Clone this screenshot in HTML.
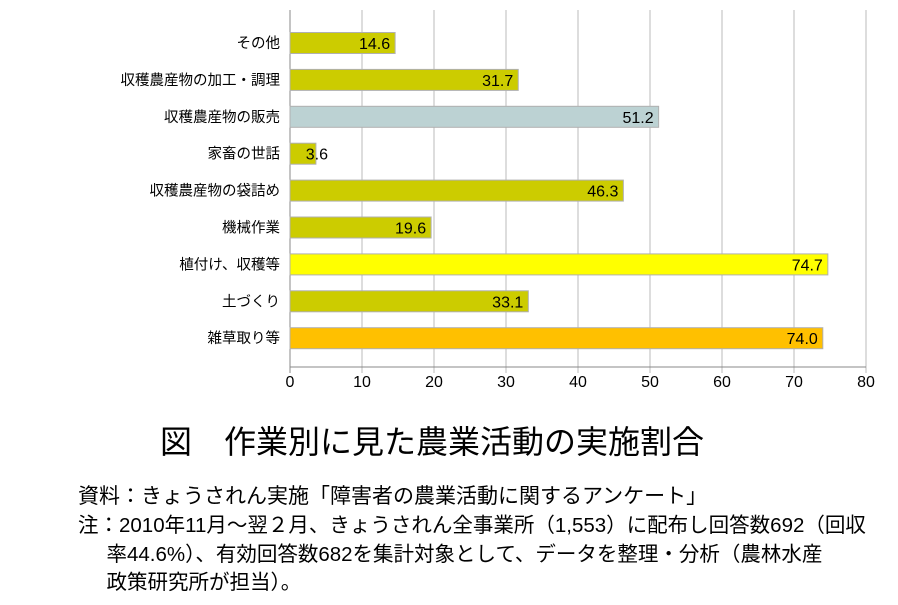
<!DOCTYPE html>
<html><head><meta charset="utf-8"><style>
body{margin:0;background:#fff;width:898px;height:605px;overflow:hidden;font-family:"Liberation Sans","Noto Sans CJK JP",sans-serif;}
.t{position:absolute;white-space:nowrap;color:#000;}
</style></head><body>
<svg width="898" height="400" style="position:absolute;left:0;top:0">
<g id="grid"></g><g id="bars"></g><g id="labels"></g><g id="ticks"></g>
</svg>
<div class="t" style="left:160px;top:417px;font-size:32px;">図　作業別に見た農業活動の実施割合</div>
<div class="t" style="left:78px;top:480px;font-size:21px;">資料：きょうされん実施「障害者の農業活動に関するアンケート」</div>
<div class="t" style="left:78px;top:512px;font-size:20.5px;line-height:28.5px;">注：2010年11月～翌２月、きょうされん全事業所（1,553）に配布し回答数692（回収<br>&nbsp;&nbsp;&nbsp;&nbsp;&nbsp;率44.6%）、有効回答数682を集計対象として、データを整理・分析（農林水産<br>&nbsp;&nbsp;&nbsp;&nbsp;&nbsp;政策研究所が担当）。</div>
<script>
const categories=["その他","収穫農産物の加工・調理","収穫農産物の販売","家畜の世話","収穫農産物の袋詰め","機械作業","植付け、収穫等","土づくり","雑草取り等"];
const values=[14.6,31.7,51.2,3.6,46.3,19.6,74.7,33.1,74.0];
const colors=["#cccc00","#cccc00","#bcd2d3","#cccc00","#cccc00","#cccc00","#ffff00","#cccc00","#ffc000"];
const ticks=[0,10,20,30,40,50,60,70,80];
const NS="http://www.w3.org/2000/svg";
const x0=290,x1=866,xmax=80,yTop=10,yAxis=367,c0=43,band=36.9,bh=21;
const xs=v=>x0+(x1-x0)*v/xmax;
const yc=i=>c0+i*band;
function mk(t,a,p){const e=document.createElementNS(NS,t);for(const k in a)e.setAttribute(k,a[k]);p.appendChild(e);return e;}
const G=document.getElementById('grid'),B=document.getElementById('bars'),L=document.getElementById('labels'),T=document.getElementById('ticks');
ticks.forEach(v=>{
 const l=mk('line',{x1:xs(v),x2:xs(v),y1:yTop,y2:yAxis+6,stroke:v===0?'#888':'#bbb','stroke-width':1},G);
 
 
 const t=mk('text',{x:xs(v),y:yAxis+20,'text-anchor':'middle','font-size':16,'font-family':'Liberation Sans'},T);
 t.textContent=v;
 
 
});
const ax=mk('line',{x1:x0,x2:x1,y1:yAxis,y2:yAxis,stroke:'#888'},G);


categories.forEach((c,i)=>{
 const y=yc(i);
 const r=mk('rect',{x:x0,y:y-bh/2,width:xs(values[i])-x0,height:bh,fill:colors[i],stroke:'#b0b0b0','stroke-width':1},B);
 
 
 const vt=mk('text',{x:Math.max(xs(values[i])-5,x0+38),y:y+6,'text-anchor':'end','font-size':16,'font-family':'Liberation Sans'},L);
 vt.textContent=values[i].toFixed(1);
 
 
 const ct=mk('text',{x:x0-10,y:y+5,'text-anchor':'end','font-size':14.5,'font-family':'Liberation Sans, Noto Sans CJK JP, sans-serif'},L);
 ct.textContent=c;
 
 
});
</script>
</body></html>
